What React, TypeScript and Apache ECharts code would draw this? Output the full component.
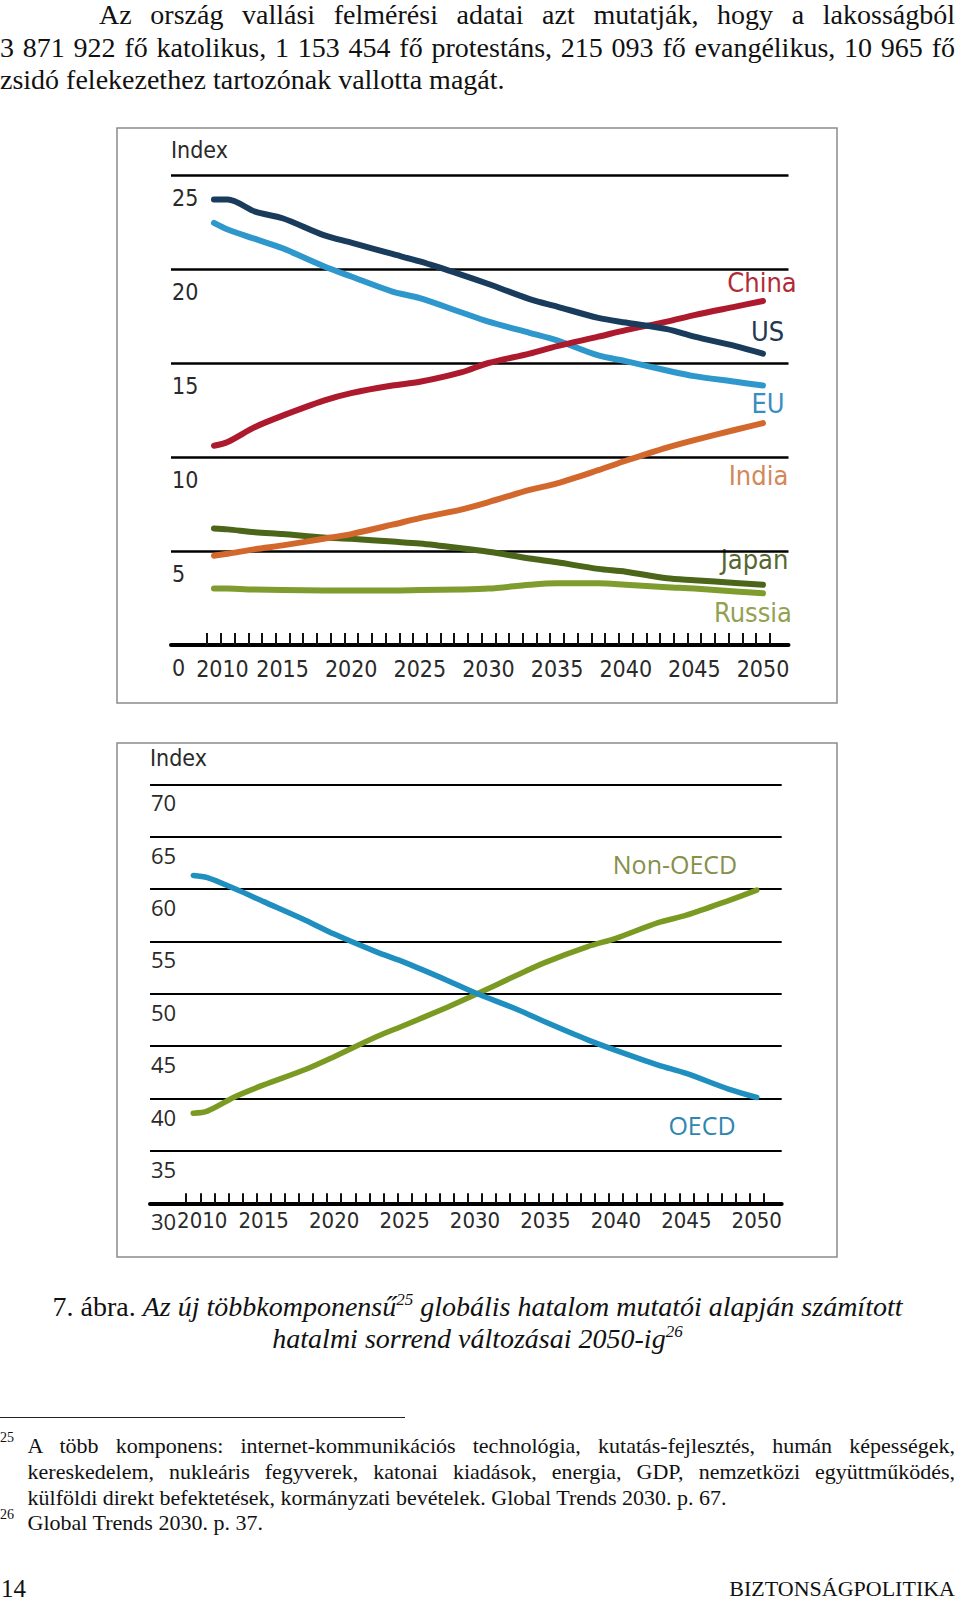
import React, { useEffect, useRef } from "react";
import * as echarts from "echarts";

// ---------- data: chart 1 (power index by country) ----------
const years1 = [2010, 2011, 2013, 2015, 2018, 2020, 2023, 2025, 2028, 2030, 2033, 2035, 2038, 2040, 2043, 2045, 2048, 2050];
const usValues = [23.7, 23.7, 23.05, 22.7, 21.8, 21.4, 20.8, 20.4, 19.7, 19.2, 18.4, 18.0, 17.4, 17.15, 16.8, 16.4, 15.9, 15.5];
const euValues = [22.45, 22.1, 21.6, 21.1, 20.15, 19.6, 18.8, 18.45, 17.7, 17.2, 16.6, 16.2, 15.4, 15.1, 14.6, 14.3, 14.0, 13.8];
const chinaValues = [10.6, 10.8, 11.6, 12.2, 13.0, 13.4, 13.8, 14.0, 14.5, 15.0, 15.5, 15.9, 16.4, 16.75, 17.2, 17.55, 18.0, 18.3];
const indiaValues = [4.75, 4.85, 5.1, 5.3, 5.65, 5.9, 6.4, 6.75, 7.2, 7.6, 8.25, 8.6, 9.3, 9.8, 10.5, 10.9, 11.45, 11.8];
const japanValues = [6.2, 6.15, 6.0, 5.9, 5.72, 5.65, 5.5, 5.4, 5.15, 4.96, 4.6, 4.4, 4.05, 3.9, 3.55, 3.45, 3.3, 3.2];
const russiaValues = [3.0, 3.0, 2.95, 2.92, 2.9, 2.9, 2.9, 2.92, 2.95, 3.0, 3.2, 3.28, 3.28, 3.2, 3.07, 3.0, 2.85, 2.75];

// ---------- data: chart 2 (OECD vs non-OECD) ----------
const years2 = [2010, 2011, 2013, 2015, 2018, 2020, 2023, 2025, 2028, 2030, 2033, 2035, 2038, 2040, 2043, 2045, 2048, 2050];
const oecdValues = [61.3, 61.1, 60.0, 58.8, 57.0, 55.7, 54.0, 53.0, 51.3, 50.1, 48.5, 47.3, 45.6, 44.6, 43.2, 42.4, 40.9, 40.1];
const nonOecdValues = [38.6, 38.8, 40.2, 41.3, 42.8, 44.0, 45.9, 47.0, 48.7, 49.9, 51.8, 53.0, 54.5, 55.3, 56.8, 57.5, 58.9, 59.9];

// ---------- tick labels ----------
const yearLabels = [2010, 2015, 2020, 2025, 2030, 2035, 2040, 2045, 2050];
const firstYear = 2010;
const lastYear = 2050;

const NARROW = "'DejaVu Sans Condensed', 'Liberation Sans Narrow', sans-serif";
const HUMAN = "'Open Sans', 'Noto Sans', sans-serif";

// tick marks sit between the yearly bins
const halfYearTicks: number[] = [];
for (let y = firstYear - 0.5; y <= lastYear + 0.5; y += 1) halfYearTicks.push(y);

const pairs = (xs: number[], ys: number[]) => xs.map((x, i) => [x, ys[i]]);

function lineSeries(name: string, xs: number[], ys: number[], color: string, idx: number, width: number) {
  return {
    name,
    type: "line",
    xAxisIndex: idx,
    yAxisIndex: idx,
    data: pairs(xs, ys),
    smooth: 0.3,
    showSymbol: false,
    symbol: "none",
    silent: true,
    lineStyle: { color, width, cap: "round", join: "round" },
  };
}

function xAxisCfg(idx: number, min: number, max: number, tickLen: number, labelMargin: number, size: number, shift: number) {
  return {
    type: "value",
    gridIndex: idx,
    min,
    max,
    splitLine: { show: false },
    axisLine: { show: true, onZero: false, lineStyle: { color: "#000", width: 4 } },
    axisTick: {
      show: true,
      inside: true,
      length: tickLen,
      customValues: halfYearTicks,
      lineStyle: { color: "#111", width: 2 },
    },
    axisLabel: {
      customValues: yearLabels,
      margin: labelMargin,
      fontSize: size,
      fontFamily: NARROW,
      color: "#2a2a2a",
      formatter: (v: number) => (Math.round(v) === firstYear ? `{first|${Math.round(v)}}` : `${Math.round(v)}`),
      rich: {
        first: { padding: [0, 0, 0, shift], fontSize: size, fontFamily: NARROW, color: "#2a2a2a" },
      },
    },
  };
}

function yAxisCfg(idx: number, min: number, max: number, gridW: number, labelFont: string, labelSize: number, padTop: number, nameGap: number) {
  return {
    type: "value",
    gridIndex: idx,
    min,
    max,
    interval: 5,
    name: "Index",
    nameLocation: "end",
    nameGap,
    nameTextStyle: { fontFamily: NARROW, fontSize: 23, color: "#2a2a2a", align: "left", verticalAlign: "middle" },
    axisLine: { show: false },
    axisTick: { show: false },
    splitLine: { show: true, lineStyle: { color: "#000", width: gridW } },
    axisLabel: {
      inside: true,
      margin: 1,
      fontSize: labelSize,
      fontFamily: labelFont,
      color: "#2a2a2a",
      verticalAlign: "top",
      padding: [padTop, 0, 0, 0],
    },
  };
}

function seriesText(text: string, x: number, y: number, color: string, size: number, family: string) {
  return {
    type: "text",
    x,
    y,
    silent: true,
    style: {
      text,
      fill: color,
      fontSize: size,
      fontFamily: family,
      align: "center",
      verticalAlign: "middle",
      textAlign: "center",
      textVerticalAlign: "middle",
    },
  };
}

function frame(x: number, y: number, w: number, h: number) {
  return {
    type: "rect",
    silent: true,
    shape: { x, y, width: w, height: h },
    style: { fill: "none", stroke: "#8c8c8c", lineWidth: 1.5 },
  };
}

const option = {
  animation: false,
  backgroundColor: "transparent",
  grid: [
    { left: 171, right: 171.5, top: 175, bottom: 957, containLabel: false },
    { left: 150, right: 178.3, top: 784.3, bottom: 398.7, containLabel: false },
  ],
  xAxis: [xAxisCfg(0, 2006.87, 2051.86, 12, 12, 23, 17), xAxisCfg(1, 2006.93, 2051.77, 10, 6, 22, 18)],
  yAxis: [
    yAxisCfg(0, 0, 25, 2.5, NARROW, 23, 11.5, 25),
    yAxisCfg(1, 30, 70, 2, HUMAN, 22, 7, 26),
  ],
  series: [
    lineSeries("Russia", years1, russiaValues, "#7f9c2e", 0, 6),
    lineSeries("Japan", years1, japanValues, "#4b6619", 0, 6),
    lineSeries("India", years1, indiaValues, "#d3682c", 0, 6),
    lineSeries("EU", years1, euValues, "#2e98cc", 0, 6),
    lineSeries("China", years1, chinaValues, "#ad1a2e", 0, 6),
    lineSeries("US", years1, usValues, "#193c5c", 0, 6),
    lineSeries("Non-OECD", years2, nonOecdValues, "#7a9a22", 1, 5.5),
    lineSeries("OECD", years2, oecdValues, "#1f8fc0", 1, 5.5),
  ],
  graphic: {
    elements: [
      frame(117, 128, 720, 575),
      frame(117, 743, 720, 514),
      seriesText("China", 762, 282, "#b02a38", 27, NARROW),
      seriesText("US", 767.5, 331, "#24394f", 27, NARROW),
      seriesText("EU", 768, 403, "#3a8ec0", 27, NARROW),
      seriesText("India", 758.5, 475, "#d4875a", 27, NARROW),
      seriesText("Japan", 754.5, 559, "#566630", 27, NARROW),
      seriesText("Russia", 753, 612, "#93a150", 27, NARROW),
      seriesText("Non-OECD", 675, 864, "#86904a", 25, HUMAN),
      seriesText("OECD", 702, 1125, "#2f86b0", 25, HUMAN),
    ],
  },
};

const SERIF = "'Liberation Serif', 'Times New Roman', serif";

function TextLine(props: { top: number; left: number; width: number; size: number; lh: number; justify?: boolean; align?: string; children: React.ReactNode }) {
  const { top, left, width, size, lh, justify, align, children } = props;
  return (
    <div
      style={{
        position: "absolute",
        top,
        left,
        width,
        fontSize: size,
        lineHeight: `${lh}px`,
        textAlign: (justify ? "justify" : align || "left") as any,
        textAlignLast: (justify ? "justify" : align || "left") as any,
        fontFamily: SERIF,
        color: "#111",
      }}
    >
      {children}
    </div>
  );
}

const supStyle = (size: number, raise: number): React.CSSProperties => ({
  fontSize: size,
  position: "relative",
  top: -raise,
  verticalAlign: "baseline",
  lineHeight: 0,
});

export default function App() {
  const ref = useRef<HTMLDivElement>(null);
  useEffect(() => {
    if (!ref.current) return;
    const chart = echarts.init(ref.current, null, { renderer: "svg" });
    chart.setOption(option as any);
    return () => chart.dispose();
  }, []);

  return (
    <div style={{ position: "absolute", left: 0, top: 0, width: 960, height: 1602, background: "#fff", overflow: "hidden" }}>
      <div ref={ref} style={{ position: "absolute", left: 0, top: 0, width: 960, height: 1602 }} />

      <TextLine top={-1} left={99} width={856} size={28} lh={32} justify>
        Az ország vallási felmérési adatai azt mutatják, hogy a lakosságból
      </TextLine>
      <TextLine top={31.5} left={0} width={955} size={28} lh={32} justify>
        3 871 922 fő katolikus, 1 153 454 fő protestáns, 215 093 fő evangélikus, 10 965 fő
      </TextLine>
      <TextLine top={63.5} left={0} width={955} size={28} lh={32}>
        zsidó felekezethez tartozónak vallotta magát.
      </TextLine>

      <TextLine top={1291} left={0} width={955} size={28} lh={32} align="center">
        <span>7. ábra. </span>
        <i>
          Az új többkomponensű<span style={supStyle(17, 11)}>25</span> globális hatalom mutatói alapján számított
        </i>
      </TextLine>
      <TextLine top={1323} left={0} width={955} size={28} lh={32} align="center">
        <i>
          hatalmi sorrend változásai 2050-ig<span style={supStyle(17, 11)}>26</span>
        </i>
      </TextLine>

      <div style={{ position: "absolute", left: 0, top: 1416.5, width: 405, height: 1.5, background: "#222" }} />

      <div style={{ position: "absolute", left: 0, top: 1430, fontSize: 14, lineHeight: "16px", fontFamily: SERIF, color: "#111" }}>25</div>
      <TextLine top={1433} left={27.6} width={927.4} size={22} lh={26} justify>
        A több komponens: internet-kommunikációs technológia, kutatás-fejlesztés, humán képességek,
      </TextLine>
      <TextLine top={1458.5} left={27.6} width={927.4} size={22} lh={26} justify>
        kereskedelem, nukleáris fegyverek, katonai kiadások, energia, GDP, nemzetközi együttműködés,
      </TextLine>
      <TextLine top={1485} left={27.6} width={927.4} size={22} lh={26}>
        külföldi direkt befektetések, kormányzati bevételek. Global Trends 2030. p. 67.
      </TextLine>
      <div style={{ position: "absolute", left: 0, top: 1506.5, fontSize: 14, lineHeight: "16px", fontFamily: SERIF, color: "#111" }}>26</div>
      <TextLine top={1509.5} left={27.6} width={927.4} size={22} lh={26}>
        Global Trends 2030. p. 37.
      </TextLine>

      <TextLine top={1577} left={1} width={200} size={25} lh={24}>
        14
      </TextLine>
      <TextLine top={1577} left={555} width={400} size={22} lh={24} align="right">
        BIZTONSÁGPOLITIKA
      </TextLine>
    </div>
  );
}
